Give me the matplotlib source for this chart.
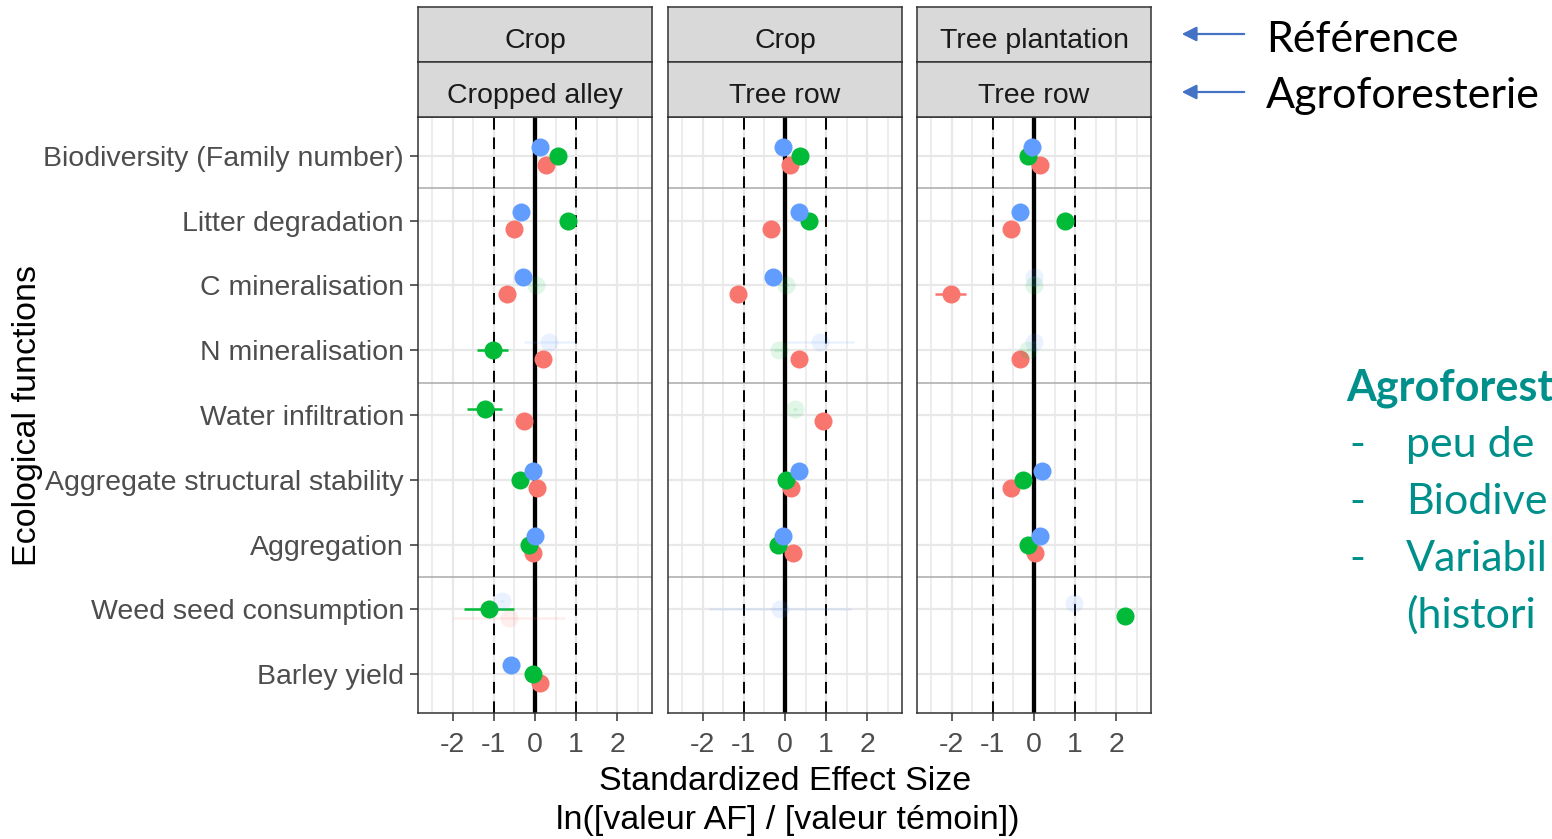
import matplotlib
matplotlib.use("Agg")
import matplotlib.pyplot as plt
import numpy as np

W, H = 1552, 839
fig = plt.figure(figsize=(W / 100, H / 100), dpi=100)
fig.patch.set_facecolor("white")

# ── Data ─────────────────────────────────────────────────────────────────────
functions = [
    "Biodiversity (Family number)",
    "Litter degradation",
    "C mineralisation",
    "N mineralisation",
    "Water infiltration",
    "Aggregate structural stability",
    "Aggregation",
    "Weed seed consumption",
    "Barley yield",
]
facet_ref = ["Crop", "Crop", "Tree plantation"]
facet_af = ["Cropped alley", "Tree row", "Tree row"]
x_ticks = [-2, -1, 0, 1, 2]

nan = np.nan
# standardized effect sizes per facet (rows) and function (columns)
es_red = [
    [0.27, -0.51, -0.68, 0.19, -0.26, 0.05, -0.05, -0.64, 0.13],
    [0.11, -0.35, -1.15, 0.35, 0.92, 0.14, 0.19, nan, nan],
    [0.15, -0.56, -2.02, -0.35, nan, -0.56, 0.02, nan, nan],
]
es_green = [
    [0.57, 0.80, 0.03, -1.03, -1.22, -0.36, -0.15, -1.12, -0.05],
    [0.37, 0.59, 0.02, -0.14, 0.24, 0.02, -0.16, nan, nan],
    [-0.14, 0.75, 0.00, -0.14, nan, -0.27, -0.14, 2.20, nan],
]
es_blue = [
    [0.11, -0.34, -0.29, 0.35, nan, -0.05, -0.01, -0.80, -0.58],
    [-0.06, 0.34, -0.28, 0.85, nan, 0.35, -0.06, -0.12, nan],
    [-0.06, -0.34, -0.01, 0.00, nan, 0.19, 0.15, 0.97, nan],
]
# confidence interval half widths
ci_red = [
    [0.05, 0.05, 0.05, 0.05, 0.05, 0.05, 0.05, 1.36, 0.05],
    [0.05, 0.05, 0.05, 0.05, 0.05, 0.05, 0.05, nan, nan],
    [0.05, 0.05, 0.38, 0.05, nan, 0.05, 0.05, nan, nan],
]
ci_green = [
    [0.05, 0.05, 0.05, 0.38, 0.42, 0.05, 0.05, 0.60, 0.05],
    [0.05, 0.05, 0.05, 0.12, 0.05, 0.05, 0.05, nan, nan],
    [0.05, 0.05, 0.05, 0.05, nan, 0.05, 0.05, 0.05, nan],
]
ci_blue = [
    [0.05, 0.05, 0.05, 0.62, nan, 0.05, 0.05, 0.05, 0.05],
    [0.05, 0.05, 0.05, 0.82, nan, 0.05, 0.05, 1.72, nan],
    [0.05, 0.05, 0.05, 0.05, nan, 0.05, 0.05, 0.05, nan],
]
# 1 = significant (opaque), 0 = not significant (faded)
sig_red = [
    [1, 1, 1, 1, 1, 1, 1, 0, 1],
    [1, 1, 1, 1, 1, 1, 1, 0, 0],
    [1, 1, 1, 1, 0, 1, 1, 0, 0],
]
sig_green = [
    [1, 1, 0, 1, 1, 1, 1, 1, 1],
    [1, 1, 0, 0, 0, 1, 1, 0, 0],
    [1, 1, 0, 0, 0, 1, 1, 1, 0],
]
sig_blue = [
    [1, 1, 1, 0, 0, 1, 1, 0, 1],
    [1, 1, 1, 0, 0, 1, 1, 0, 0],
    [1, 1, 0, 0, 0, 1, 1, 0, 0],
]
group_separators = [0.5, 3.5, 6.5]

# drawing order red -> green -> blue; dodge order top -> bottom is blue, green, red
groups = [
    ("#F8766D", es_red, ci_red, sig_red, 2),
    ("#00BA38", es_green, ci_green, sig_green, 1),
    ("#619CFF", es_blue, ci_blue, sig_blue, 0),
]
DODGE = 0.4

# ── Layout (pixels) ──────────────────────────────────────────────────────────
panel_x = [(418, 652), (668, 902), (917, 1151)]
p_top, p_bot = 117, 713
strip_rows = [(7, 62), (62, 117)]

def frac(x0, y0, x1, y1):
    return [x0 / W, 1 - y1 / H, (x1 - x0) / W, (y1 - y0) / H]

TXT = dict(family="Liberation Sans")
GRID = "#E8E8E8"
EDGE = "#333333"

for f in range(3):
    x0, x1 = panel_x[f]
    ax = fig.add_axes(frac(x0, p_top, x1, p_bot))
    ax.set_xlim(-2.84, 2.84)
    ax.set_ylim(len(functions) - 1 + 0.6, -0.6)

    # grid
    for v in np.arange(-2.5, 2.6, 0.5):
        ax.axvline(v, color=GRID, lw=1.6 if float(v).is_integer() else 1.1, zorder=0)
    for i in range(len(functions)):
        ax.axhline(i, color=GRID, lw=1.6, zorder=0)
    for s in group_separators:
        ax.axhline(s, color="#B0B0B0", lw=1.2, zorder=1)

    ax.axvline(0, color="black", lw=3.1, zorder=2)
    for v in (-1, 1):
        ax.axvline(v, color="black", lw=1.4, ls=(0, (6, 4)), zorder=2)

    # dodged points with horizontal CI bars
    for i in range(len(functions)):
        present = [g for g in sorted(groups, key=lambda g: g[4])
                   if not np.isnan(g[1][f][i])]
        n = len(present)
        offs = {g[4]: -DODGE / 2 + (k + 0.5) * DODGE / n for k, g in enumerate(present)}
        for col, es, ci, sig, rank in groups:
            v = es[f][i]
            if np.isnan(v):
                continue
            y = i + offs[rank]
            a = 1.0 if sig[f][i] else 0.12
            ax.plot([v - ci[f][i], v + ci[f][i]], [y, y], color=col, lw=1.8,
                    alpha=a, solid_capstyle="butt", zorder=3)
            ax.plot(v, y, "o", ms=13, color=col, mec="none", alpha=a, zorder=4)

    ax.set_xticks(x_ticks)
    ax.set_xticklabels([str(t) for t in x_ticks])
    ax.set_yticks(range(len(functions)))
    if f == 0:
        ax.set_yticklabels(functions)
    else:
        ax.set_yticklabels([])
    ax.tick_params(axis="both", colors=EDGE, labelcolor="#4D4D4D",
                   labelsize=20.5, length=6, width=1.1)
    ax.tick_params(axis="x", pad=7.5)
    ax.tick_params(axis="y", pad=4)
    if f > 0:
        ax.tick_params(axis="y", length=0)
    for lab in ax.get_xticklabels() + ax.get_yticklabels():
        lab.set_fontfamily("Liberation Sans")
    for sp in ax.spines.values():
        sp.set_color(EDGE)
        sp.set_linewidth(1.1)

    # two-level strips
    for r, label in enumerate((facet_ref[f], facet_af[f])):
        sy0, sy1 = strip_rows[r]
        sa = fig.add_axes(frac(x0, sy0, x1, sy1))
        sa.set_facecolor("#D9D9D9")
        sa.set_xticks([])
        sa.set_yticks([])
        for sp in sa.spines.values():
            sp.set_color(EDGE)
            sp.set_linewidth(1.1)
        sa.text(0.5, 0.38, label, ha="center", va="center", fontsize=20.5,
                color="#1A1A1A", transform=sa.transAxes, **TXT)

# axis titles
fig.text(28 / W, 1 - 415 / H, "Ecological functions", rotation=90,
         ha="center", va="center", fontsize=24.5, color="black", **TXT)
fig.text(785 / W, 1 - 782 / H, "Standardized Effect Size",
         ha="center", va="center", fontsize=24.5, color="black", **TXT)
fig.text(788 / W, 1 - 820 / H, "ln([valeur AF] / [valeur témoin])",
         ha="center", va="center", fontsize=24.5, color="black", **TXT)

# facet level annotations on the right
for ytxt, ytip, label in ((40, 34, "Référence"), (96, 92, "Agroforesterie")):
    fig.patches.append(matplotlib.patches.FancyArrowPatch(
        (1247 / W, 1 - ytip / H), (1179 / W, 1 - ytip / H),
        transform=fig.transFigure, arrowstyle="-|>", mutation_scale=22,
        color="#4472C4", lw=1.6))
    fig.text(1266 / W, 1 - ytxt / H, label, ha="left", va="center",
             fontsize=31, color="black", family="Lato")

TEAL = "#00908C"
fig.text(1346 / W, 1 - 400 / H, "Agroforest", ha="left", va="baseline",
         fontsize=31, fontweight="bold", color=TEAL, family="Lato")
notes = ["peu de", "Biodive", "Variabil", "(histori"]
for k, line in enumerate(notes):
    yb = 457 + k * 57
    if k < 3:
        fig.text(1349 / W, 1 - yb / H, "-", ha="left", va="baseline",
                 fontsize=31, color=TEAL, family="Lato")
    fig.text(1406 / W, 1 - yb / H, line, ha="left", va="baseline",
             fontsize=31, color=TEAL, family="Lato")

fig.savefig("out.png", dpi=100, facecolor="white")
